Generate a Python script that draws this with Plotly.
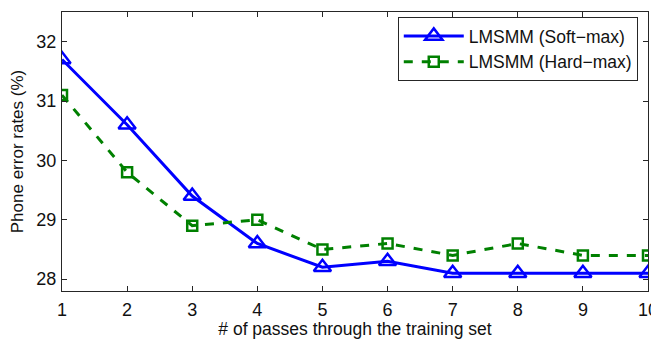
import plotly.graph_objects as go

passes = [1, 2, 3, 4, 5, 6, 7, 8, 9, 10]
soft_max = [31.7, 30.6, 29.4, 28.6, 28.2, 28.3, 28.1, 28.1, 28.1, 28.1]
hard_max = [31.1, 29.8, 28.9, 29.0, 28.5, 28.6, 28.4, 28.6, 28.4, 28.4]
y_ticks = [28, 29, 30, 31, 32]

FONT = "Liberation Sans, Arial"
FS = 18

fig = go.Figure()
fig.add_trace(go.Scatter(
    x=passes, y=soft_max, name="LMSMM (Soft\u2212max)", mode="lines+markers",
    line=dict(color="#0000FF", width=3),
    marker=dict(symbol="triangle-up-open", size=15, color="#0000FF", line=dict(width=2.5, color="#0000FF")),
))
fig.add_trace(go.Scatter(
    x=passes, y=hard_max, name="LMSMM (Hard\u2212max)", mode="lines+markers",
    line=dict(color="#008000", width=3, dash="dash"),
    marker=dict(symbol="square-open", size=10, color="#008000", line=dict(width=2.5, color="#008000")),
))

axis_common = dict(
    showline=True, linecolor="#262626", linewidth=1, mirror="ticks",
    ticks="inside", ticklen=5, tickcolor="#262626", showgrid=False, zeroline=False,
    tickfont=dict(family=FONT, size=FS, color="#111"), automargin=False,
)
fig.update_xaxes(range=[1, 10], tickvals=passes, ticklabelstandoff=2, title=dict(
    text="# of passes through the training set", standoff=2,
    font=dict(family=FONT, size=17.5, color="#111")), **axis_common)
fig.update_yaxes(range=[27.8, 32.5], tickvals=y_ticks, ticklabelstandoff=1, title=dict(
    text="Phone error rates (%)", standoff=8,
    font=dict(family=FONT, size=17, color="#111")), **axis_common)

# the page body has an 8px default margin, so the figure is offset by 8px
fig.update_layout(
    width=651, height=331,
    margin=dict(l=54, r=11, t=4, b=48),
    plot_bgcolor="white", paper_bgcolor="white",
    font=dict(family=FONT, size=FS, color="#111"),
    legend=dict(x=0.573, y=0.982, xanchor="left", yanchor="top",
                bordercolor="#262626", borderwidth=1, bgcolor="white",
                font=dict(size=17.5), tracegroupgap=0, itemwidth=60),
)
fig.write_html("out.html")
